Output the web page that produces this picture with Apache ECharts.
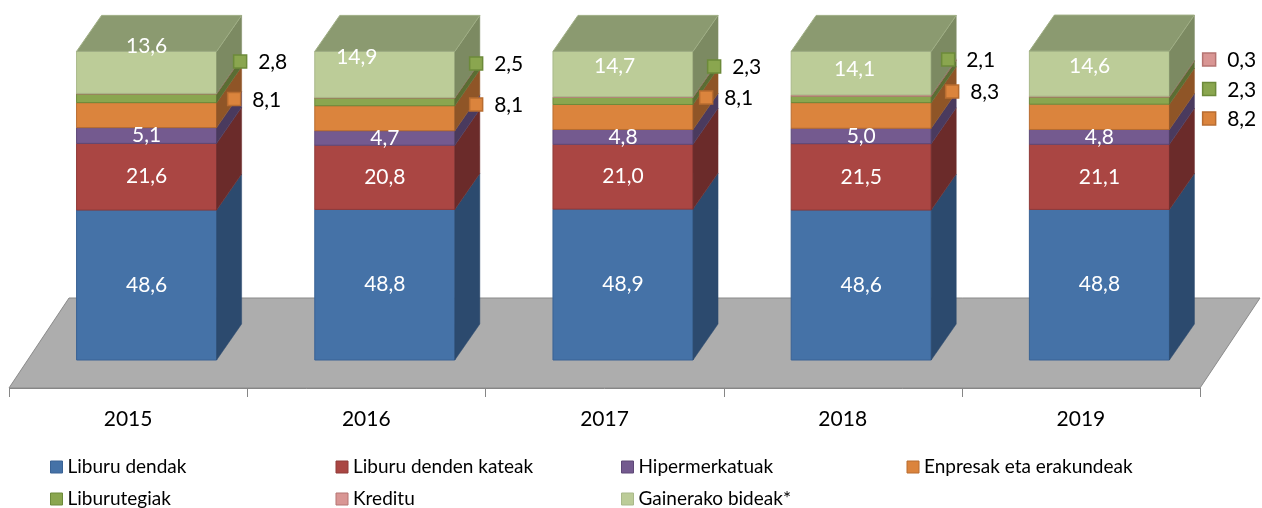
<!DOCTYPE html>
<html>
<head>
<meta charset="utf-8">
<script src="https://cdn.jsdelivr.net/npm/echarts@6/dist/echarts.min.js"></script>
<style>
  html, body { margin: 0; padding: 0; background: #ffffff; }
  #chart { width: 1262px; height: 508px; }
</style>
</head>
<body>
<div id="chart"></div>
<script>
// Categories and stacked shares (%) per sales channel
const years = ['2015', '2016', '2017', '2018', '2019'];
const seriesNames = ['Liburu dendak', 'Liburu denden kateak', 'Hipermerkatuak',
  'Enpresak eta erakundeak', 'Liburutegiak', 'Kreditu', 'Gainerako bideak*'];

const liburuDendak       = [48.6, 48.8, 48.9, 48.6, 48.8];
const liburuDendenKateak = [21.6, 20.8, 21.0, 21.5, 21.1];
const hipermerkatuak     = [5.1, 4.7, 4.8, 5.0, 4.8];
const enpresak           = [8.1, 8.1, 8.1, 8.3, 8.2];
const liburutegiak       = [2.8, 2.5, 2.3, 2.1, 2.3];
const kreditu            = [0.2, 0.2, 0.2, 0.4, 0.3];
const gainerakoBideak    = [13.6, 14.9, 14.7, 14.1, 14.6];

const stacks = [liburuDendak, liburuDendenKateak, hipermerkatuak, enpresak,
  liburutegiak, kreditu, gainerakoBideak];

// ---- styling / layout ----
const FONT = 'Lato, "Open Sans", sans-serif';
const palette = [
  { front: '#4572a7', side: '#2c4a6e', line: '#3a6395' },
  { front: '#aa4643', side: '#6b2b2a', line: '#8f3a38' },
  { front: '#745a8f', side: '#4a3a5e', line: '#5e4877' },
  { front: '#db843d', side: '#8f5527', line: '#b86c30' },
  { front: '#8aa64f', side: '#5b6d33', line: '#6c8a3a' },
  { front: '#d99694', side: '#9a6361', line: '#b57472' },
  { front: '#bccc98', side: '#7c8a62', top: '#8b9a70', line: '#a9b98a' }
];
// how each series is labelled: inside the front face, or as a keyed callout beside the bar
const labelMode = ['inside', 'inside', 'inside', 'callout', 'callout', 'callout', 'inside'];
const labelledYears = [years, years, years, years, years, ['2019'], years];
// pixel nudges for label placement
const labelNudge = {
  3: [[-7.5, 19.9], [-3.7, 22.3], [-11.9, 16.5], [-4.1, 12.1], [14.7, 37.6]],
  4: [[-1.5, -0.8], [-3.7, -2.3], [-3.9, 1.5], [-8.1, -3.9], [14.7, 24.4]],
  5: [[0, 0], [0, 0], [0, 0], [0, 0], [14.7, -1.1]],
  6: [[0, -25.7], [-28, -16.7], [-8.4, -7.4], [-6.6, -4.4], [-9.8, -7.1]]
};

const BAR_FRAC = 0.588;     // front-face width as a share of the band
const BAR_SHIFT = 0.0777;   // front face sits right of the band centre (perspective)
const DEPTH_X = 25, DEPTH_Y = -36;
const FLOOR_DROP = 28, FLOOR_DX = 60, FLOOR_DY = -90;
const TICK_LEN = 9;
const VALUE_FONT = 21;

const fmt = v => v.toFixed(1).replace('.', ',');

function stackBase(s, i) {
  let b = 0;
  for (let k = 0; k < s; k++) b += stacks[k][i];
  return b;
}

// front-face geometry of segment s in category i, from the axis scales
function segment(api, s, i) {
  const base = stackBase(s, i);
  const v = stacks[s][i];
  const p0 = api.coord([i, base]);
  const p1 = api.coord([i, base + v]);
  const band = api.size([1, 0])[0];
  const w = band * BAR_FRAC;
  const fl = p0[0] + band * BAR_SHIFT - w / 2;
  return { v: v, fl: fl, fr: fl + w, w: w, yb: p0[1], yt: p1[1] };
}

function makeRender(s) {
  const col = palette[s];
  const isTop = s === stacks.length - 1;
  return function (params, api) {
    const g = segment(api, s, api.value(0));
    const children = [
      {
        type: 'rect',
        shape: { x: g.fl, y: g.yt, width: g.w, height: g.yb - g.yt },
        style: { fill: col.front, stroke: col.line, lineWidth: 1 }
      },
      {
        type: 'polygon',
        shape: { points: [[g.fr, g.yb], [g.fr + DEPTH_X, g.yb + DEPTH_Y],
          [g.fr + DEPTH_X, g.yt + DEPTH_Y], [g.fr, g.yt]] },
        style: { fill: col.side, stroke: col.side, lineWidth: 0.5 }
      }
    ];
    if (isTop) {
      children.push({
        type: 'polygon',
        shape: { points: [[g.fl, g.yt], [g.fr, g.yt], [g.fr + DEPTH_X, g.yt + DEPTH_Y],
          [g.fl + DEPTH_X, g.yt + DEPTH_Y]] },
        style: { fill: col.top, stroke: '#9fae84', lineWidth: 1 }
      });
    }
    return { type: 'group', children: children };
  };
}

const barSeries = stacks.map((arr, s) => ({
  type: 'custom',
  name: seriesNames[s],
  coordinateSystem: 'cartesian2d',
  z: 3,
  itemStyle: { color: palette[s].front, borderColor: palette[s].line, borderWidth: 1 },
  encode: { x: 0, y: 1 },
  data: arr.map((v, i) => [i, v]),
  renderItem: makeRender(s)
}));

// value labels for every segment of one bar, drawn above all bar faces
const labelSeries = {
  type: 'custom',
  name: 'values',
  silent: true,
  z: 10,
  coordinateSystem: 'cartesian2d',
  encode: { x: 0, y: 1 },
  data: years.map((y, i) => [i, 0]),
  renderItem: function (params, api) {
    const i = api.value(0);
    const children = [];
    stacks.forEach((arr, s) => {
      if (labelledYears[s].indexOf(years[i]) < 0) return;
      const g = segment(api, s, i);
      const n = (labelNudge[s] && labelNudge[s][i]) || [0, 0];
      if (labelMode[s] === 'inside') {
        children.push({
          type: 'text',
          style: {
            text: fmt(g.v), x: (g.fl + g.fr) / 2 + n[0], y: (g.yb + g.yt) / 2 + n[1],
            align: 'center', verticalAlign: 'middle',
            fill: '#ffffff', fontSize: VALUE_FONT, fontFamily: FONT
          }
        });
      } else {
        const mx = g.fr + DEPTH_X + n[0];
        const my = (g.yb + g.yt) / 2 + DEPTH_Y + n[1];
        children.push({
          type: 'rect',
          shape: { x: mx - 6.5, y: my - 6.5, width: 13, height: 13 },
          style: { fill: palette[s].front, stroke: palette[s].line, lineWidth: 1.5 }
        });
        children.push({
          type: 'text',
          style: {
            text: fmt(g.v), x: mx + 18, y: my + 1,
            align: 'left', verticalAlign: 'middle',
            fill: '#000000', fontSize: VALUE_FONT, fontFamily: FONT
          }
        });
      }
    });
    return { type: 'group', children: children };
  }
};

// grey floor with the category axis line and ticks along its front edge
const floorSeries = {
  type: 'custom',
  name: 'floor',
  silent: true,
  z: 1,
  coordinateSystem: 'cartesian2d',
  encode: { x: 0, y: 1 },
  data: [[0, 0]],
  renderItem: function (params, api) {
    const band = api.size([1, 0])[0];
    const c0 = api.coord([0, 0]);
    const cN = api.coord([years.length - 1, 0]);
    const L = c0[0] - band / 2, R = cN[0] + band / 2;
    const y = c0[1] + FLOOR_DROP;
    const children = [{
      type: 'polygon',
      shape: { points: [[L, y], [R, y], [R + FLOOR_DX, y + FLOOR_DY], [L + FLOOR_DX, y + FLOOR_DY]] },
      style: { fill: '#adadad', stroke: '#8a8a8a', lineWidth: 1 }
    }, {
      type: 'line',
      shape: { x1: L, y1: y + 0.5, x2: R, y2: y + 0.5 },
      style: { stroke: '#868686', lineWidth: 1 }
    }];
    for (let k = 0; k <= years.length; k++) {
      const x = Math.round(L + k * band) + 0.5;
      children.push({
        type: 'line',
        shape: { x1: x, y1: y, x2: x, y2: y + TICK_LEN },
        style: { stroke: '#868686', lineWidth: 1 }
      });
    }
    return { type: 'group', children: children };
  }
};

const legendItem = s => ({
  name: seriesNames[s],
  itemStyle: { color: palette[s].front, borderColor: palette[s].line, borderWidth: 1 }
});
const legendCommon = {
  orient: 'horizontal',
  left: 45,
  itemWidth: 12,
  itemHeight: 12,
  itemGap: 0,
  icon: 'rect',
  selectedMode: false,
  textStyle: { fontSize: 19, fontFamily: FONT, color: '#000', width: 268, lineHeight: 20 }
};

const chart = echarts.init(document.getElementById('chart'), null, { renderer: 'canvas' });
chart.setOption({
  animation: false,
  backgroundColor: '#ffffff',
  grid: { left: 9, right: 62, top: 51.4, bottom: 148 },
  xAxis: {
    type: 'category',
    data: years,
    offset: FLOOR_DROP,
    axisLine: { show: false, onZero: false },
    axisTick: { show: false },
    axisLabel: { margin: 21, fontSize: VALUE_FONT, color: '#000', fontFamily: FONT },
    splitLine: { show: false }
  },
  yAxis: { type: 'value', min: 0, max: 100, show: false },
  legend: [
    Object.assign({}, legendCommon, { top: 452, data: [0, 1, 2, 3].map(legendItem) }),
    Object.assign({}, legendCommon, { top: 484, data: [4, 5, 6].map(legendItem) })
  ],
  series: [floorSeries].concat(barSeries, [labelSeries])
});
</script>
</body>
</html>
